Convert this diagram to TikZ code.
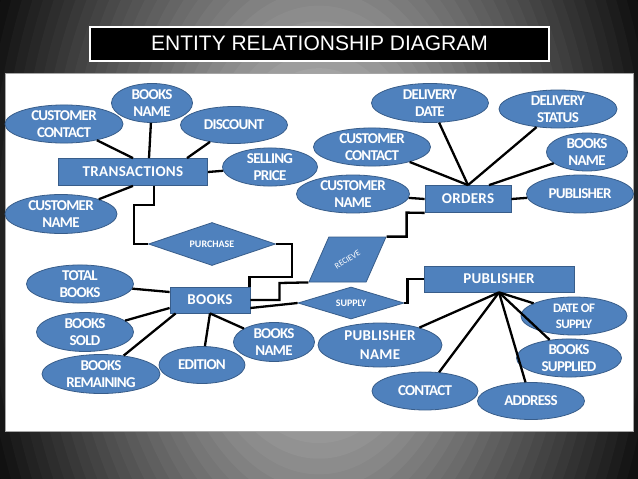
\documentclass[tikz,border=0pt]{standalone}
\usepackage{fontspec}
\setmainfont{Carlito}
\newfontfamily\titlefont{Liberation Sans}
\newfontfamily\attrfont[LetterSpace=-5.0]{Carlito}
\newfontfamily\entfont[LetterSpace=2.0]{Carlito}
\usepackage{xcolor}
\definecolor{ErBlue}{HTML}{4F81BD}
\definecolor{ErEdge}{HTML}{385D8A}
\usetikzlibrary{shapes.geometric}

\begin{document}
\begin{tikzpicture}[
    x=1pt, y=-1pt,
    link/.style={line width=2.3pt,black},   % connectors
    sz/.style 2 args={minimum width=#1,minimum height=#2},
    ent/.style={rectangle,draw=ErEdge,fill=ErBlue,line width=0.8pt,inner sep=0pt,
                text=white,font=\entfont\bfseries\fontsize{15}{18}\selectfont},   % entity
    attr/.style={ellipse,draw=ErEdge,fill=ErBlue,line width=0.8pt,inner sep=0pt,
                 text=white,align=center,font=\attrfont\bfseries\fontsize{15}{17}\selectfont},   % attribute
    rel/.style={diamond,aspect=3,draw=ErEdge,fill=ErBlue,line width=0.8pt,inner sep=0pt,
                text=white,font=\bfseries\fontsize{10}{12}\selectfont},   % relationship
    titlebox/.style={rectangle,fill=black,draw=white,line width=2pt,text=white,
                     font=\titlefont\fontsize{21}{24}\selectfont},
  ]
  \useasboundingbox (0,0) rectangle (638,479);
  \def\Rx{378}   % glow radii
  \def\Ry{625}

  % ---------- slide background: glow in rings ----------
  \fill[black] (0,0) rectangle (638,479);
  \begin{scope}
    \clip (0,0) rectangle (638,479);
    \foreach \i in {40,39,...,1}
      {\pgfmathsetmacro\r{\i/40}
       \pgfmathsetmacro\p{12+88*\r}
       \fill[black!\p] (319,240) ellipse [x radius=\Rx*\r,y radius=\Ry*\r];}
  \end{scope}
  \node[titlebox,sz={459}{34}] (title) at (319.5,43.5) {ENTITY RELATIONSHIP DIAGRAM};
  \fill[white] (5,73) rectangle (633,431);
  \draw[black!35,line width=1pt] (5,73) rectangle (633,431);

  % ---------- entities ----------
  \node[ent,sz={149}{27}] (trans)  at (133,172) {TRANSACTIONS};
  \node[ent,sz={86}{27}]  (orders) at (468,199) {ORDERS};
  \node[ent,sz={80}{26}]  (books)  at (210,300) {BOOKS};
  \node[ent,sz={150}{26}] (pub)    at (499,279) {PUBLISHER};

  % ---------- relationships ----------
  \node[rel,sz={127}{43}] (purch) at (212,244) {PURCHASE};
  \node[rel,sz={106}{32}] (supp)  at (351,303) {SUPPLY};
  \node[trapezium,trapezium left angle=62,trapezium right angle=118,trapezium stretches=true,
        sz={77}{45},draw=ErEdge,fill=ErBlue,line width=0.8pt,inner sep=2pt] (rec) at (347.5,259.5) {};
  \node[rotate=32,text=white,inner sep=0pt,font=\fontsize{8.5}{10}\selectfont] (rectxt) at (rec.center) {RECIEVE};

  % ---------- attributes: transactions ----------
  \node[attr,sz={118}{37}] (cc1)  at (64,124)  {CUSTOMER\\CONTACT};
  \node[attr,sz={81}{39}]  (bn1)  at (152,103) {BOOKS\\NAME};
  \node[attr,sz={107}{37}] (disc) at (234,125) {DISCOUNT};
  \node[attr,sz={95}{38}]  (sp)   at (270,167) {SELLING\\PRICE};
  \node[attr,sz={112}{39}] (cn1)  at (61,214)  {CUSTOMER\\NAME};

  % ---------- attributes: orders ----------
  \node[attr,sz={117}{39}] (dd)     at (430,103) {DELIVERY\\DATE};
  \node[attr,sz={118}{38}] (ds)     at (558,109) {DELIVERY\\STATUS};
  \node[attr,sz={117}{37}] (cc2)    at (372,147) {CUSTOMER\\CONTACT};
  \node[attr,sz={81}{38}]  (bn2)    at (587,152) {BOOKS\\NAME};
  \node[attr,sz={113}{38}] (cn2)    at (353,194) {CUSTOMER\\NAME};
  \node[attr,sz={107}{38}] (pubatt) at (580,194) {PUBLISHER};

  % ---------- attributes: books ----------
  \node[attr,sz={107}{38}] (tb)  at (80,284)  {TOTAL\\BOOKS};
  \node[attr,sz={97}{39}]  (bs)  at (85,332)  {BOOKS\\SOLD};
  \node[attr,sz={118}{39}] (br)  at (101,374) {BOOKS\\REMAINING};
  \node[attr,sz={86}{37}]  (ed)  at (202,365) {EDITION};
  \node[attr,sz={81}{39}]  (bn3) at (274,342) {BOOKS\\NAME};

  % ---------- attributes: publisher ----------
  \node[attr,sz={124}{44},font=\entfont\bfseries\fontsize{15}{19}\selectfont] (pn) at (380,345) {PUBLISHER\\NAME};
  \node[attr,sz={106}{38}] (ct)   at (425,391) {CONTACT};
  \node[attr,sz={107}{37}] (ad)   at (531,401) {ADDRESS};
  \node[attr,sz={106}{38},font=\attrfont\bfseries\fontsize{13}{16}\selectfont] (dos) at (574,316) {DATE OF\\SUPPLY};
  \node[attr,sz={105}{37}] (bsup) at (569,358) {BOOKS\\SUPPLIED};

  % ---------- connectors ----------
  \draw[link] (cc1) -- (trans.north);
  \draw[link] (bn1) -- ([xshift=16pt]trans.north);
  \draw[link] (disc) -- ([xshift=54pt]trans.north);
  \draw[link] (sp) -- (trans.east);
  \draw[link] (cn1) -- (trans.south);

  \draw[link] (dd) -- (orders.north);
  \draw[link] (ds) -- (orders.north);
  \draw[link] (cc2) -- (orders.north);
  \draw[link] (bn2) -- ([xshift=21pt]orders.north);
  \draw[link] (cn2) -- (orders.west);
  \draw[link] (pubatt) -- (orders.east);

  \draw[link] (tb) -- ([yshift=8pt]books.west);
  \draw[link] (bs) -- ([yshift=-8pt]books.west);
  \draw[link] (br) -- ([xshift=6pt]books.south west);
  \draw[link] (ed) -- (books.south);
  \draw[link] (bn3) -- (books.south);

  \foreach \a in {pn,ct,ad,bsup,dos}
    \draw[link] (\a) -- (pub.south);

  % elbows between entities and relationships
  \draw[link] ([xshift=21pt]trans.south) |- ++(-20,19) |- (purch.west);
  \draw[link] (purch.east) -| ++(16,33) -| ([xshift=-1pt]books.north east);
  \draw[link] (books.east) -| ++(29,-17) -- (rec.bottom left corner);
  \draw[link] (rec.top right corner) -| ++(20,-24) -- (orders.south west);
  \draw[link] ([yshift=-8pt]books.east) -- (supp.west);
  \draw[link] (supp.east) -- ++(3,0) |- (pub.west);
\end{tikzpicture}
\end{document}
